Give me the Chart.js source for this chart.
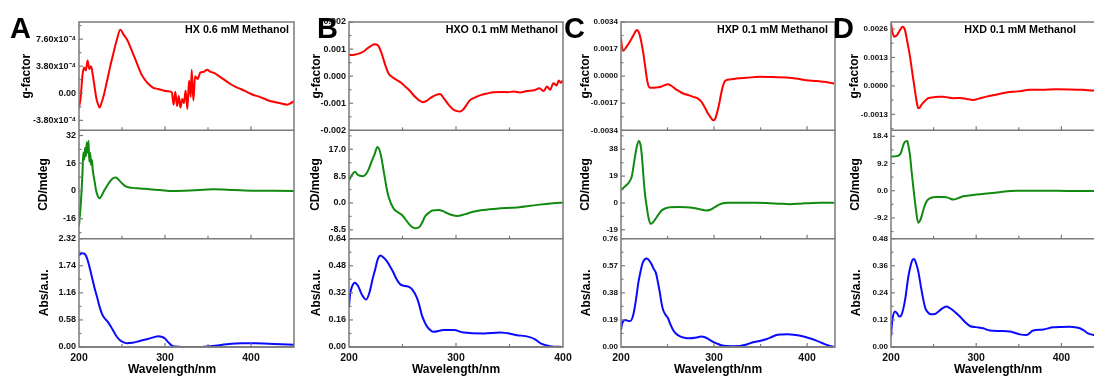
<!DOCTYPE html>
<html>
<head>
<meta charset="utf-8">
<script src="https://cdn.jsdelivr.net/npm/chart.js@4.4.0/dist/chart.umd.min.js"></script>
<style>
html, body { margin: 0; padding: 0; background: #fff; overflow: hidden; width: 1094px; height: 381px; }
canvas { position: absolute; top: 0; }
</style>
</head>
<body>
<canvas id="cA"></canvas>
<canvas id="cB"></canvas>
<canvas id="cC"></canvas>
<canvas id="cD"></canvas>
<script>
// --- Data: wavelength (nm) / value pairs ---

// Panel A (HX)
const wlA_g = [200,202,204,206,208,210,212,214,216,218,220,222,224,226,229,232,236,240,244,248,252,256,260,264,268,272,276,280,286,292,298,304,308,310,312,314,316,318,320,322,324,326,328,330,331,333,335,338,341,345,349,353,358,364,370,376,382,388,395,402,410,418,426,434,442,446,450];
const gA = [-2.0e-4,-0.5e-4,2.5e-4,3.6e-4,3.2e-4,4.6e-4,3.4e-4,3.8e-4,2.6e-4,1.0e-4,-0.6e-4,-1.5e-4,-2.0e-4,-1.4e-4,-0.2e-4,1.4e-4,3.6e-4,5.6e-4,7.5e-4,8.9e-4,8.2e-4,7.5e-4,6.4e-4,5.2e-4,4.0e-4,2.8e-4,2.0e-4,1.4e-4,0.8e-4,0.6e-4,0.4e-4,0.3e-4,0.1e-4,-1.6e-4,0.2e-4,-1.8e-4,-0.4e-4,-2.0e-4,-0.8e-4,-1.4e-4,0.4e-4,-2.2e-4,1.8e-4,-0.5e-4,3.3e-4,-1.0e-4,2.4e-4,2.0e-4,2.9e-4,3.0e-4,3.3e-4,3.0e-4,2.8e-4,2.3e-4,1.8e-4,1.3e-4,0.9e-4,0.6e-4,0.2e-4,-0.2e-4,-0.5e-4,-0.9e-4,-1.2e-4,-1.4e-4,-1.6e-4,-1.4e-4,-1.1e-4];
const wlA_cd = [200,201,202,203,204,205,206,207,208,209,210,211,212,213,214,215,216,218,220,222,224,226,229,232,236,240,243,247,251,255,262,271,282,294,309,330,356,380,402,425,450];
const cdA = [-20,-14,-8,0,10,22,18,25,20,28,22,29,17,22,15,18,12,6,0,-3,-4.2,-3,0,2.5,5.5,7.5,7.8,6.0,4.0,2.5,1.8,1.5,1.0,0.6,0.0,0.3,1.0,0.6,0.2,0.1,0.0];
const wlA_abs = [200,202,204,206,208,211,215,218,221,224,227,230,233,237,241,244,248,252,256,262,271,280,287,292,296,300,304,308,312,320,340,355,372,390,405,420,435,450];
const absA = [1.96,2.00,2.01,2.00,1.96,1.80,1.50,1.27,1.07,0.86,0.70,0.61,0.55,0.44,0.31,0.22,0.14,0.10,0.08,0.09,0.13,0.17,0.21,0.23,0.22,0.18,0.10,0.03,0.01,0.0,0.0,0.02,0.06,0.08,0.08,0.07,0.06,0.05];

// Panel B (HXO)
const wlB_g = [200,205,210,214,217,221,224,227,228,230,232,234,237,241,245,249,253,257,261,265,269,273,277,281,285,289,293,297,301,304,307,310,313,318,323,329,335,342,348,354,360,366,373,378,382,385,388,391,394,396,398,400];
const gB = [7.8e-4,7.9e-4,8.4e-4,9.2e-4,10.2e-4,11.3e-4,11.8e-4,11.4e-4,10.8e-4,9.0e-4,6.5e-4,4.0e-4,1.0e-4,-0.5e-4,-1.5e-4,-2.5e-4,-4.0e-4,-5.5e-4,-7.3e-4,-8.8e-4,-9.6e-4,-9.0e-4,-7.8e-4,-7.0e-4,-6.6e-4,-8.4e-4,-10.5e-4,-12.2e-4,-12.9e-4,-13.0e-4,-12.2e-4,-10.5e-4,-8.9e-4,-7.8e-4,-7.0e-4,-6.4e-4,-5.9e-4,-5.8e-4,-5.9e-4,-5.7e-4,-6.0e-4,-5.5e-4,-5.2e-4,-4.5e-4,-5.5e-4,-3.8e-4,-5.0e-4,-2.6e-4,-3.4e-4,-1.6e-4,-2.4e-4,-1.5e-4];
const wlB_cd = [200,203,205.5,208.5,213,216,218,221,224,226.5,229.5,232.8,235,237,241.5,245,249.5,255.5,259,262,264,266.5,269,271,275,278,284,288,292,297,301,306,310,316,323,338,357,376,391,400];
const cdB = [7.2,9.0,9.9,8.8,8.5,9.2,10.4,13.0,15.5,17.7,15.6,9.3,5.0,2.0,-1.7,-2.8,-3.8,-6.4,-7.6,-8.0,-7.9,-7.3,-5.8,-4.3,-3.0,-2.4,-2.2,-2.6,-3.3,-3.9,-4.1,-3.8,-3.4,-2.8,-2.3,-1.8,-1.4,-0.6,-0.1,0.1];
const wlB_abs = [200,201,203,205.5,208.5,212,216,219.5,222,224.5,227,229.5,232,235,238,241.5,244.5,248,252.5,256,259,263.5,266,268,270.5,273,279,288.5,298,307,326,341.5,357,368,374,379,388,400];
const absB = [0.24,0.31,0.36,0.38,0.36,0.31,0.28,0.33,0.40,0.46,0.52,0.54,0.53,0.51,0.48,0.44,0.40,0.37,0.36,0.355,0.34,0.29,0.24,0.19,0.15,0.12,0.09,0.10,0.10,0.085,0.08,0.085,0.07,0.06,0.045,0.022,0.005,0.0];

// Panel C (HXP)
const wlC_g = [200,201,202.5,206,211.5,215,217,219.5,222,224,226,227.5,229,230.5,234,238,243,247,250.5,254,258,262,267,272,277.5,282,286.5,290,293.5,296.5,299,301,303,305.5,308,310.5,313,318,324,335,349,363,377.6,390,399,410,420.5,429];
const gC = [24e-4,18e-4,16e-4,18.5e-4,23.7e-4,27.5e-4,29e-4,27e-4,21e-4,14.3e-4,6e-4,-0.4e-4,-5e-4,-7.1e-4,-7.3e-4,-7.1e-4,-6.6e-4,-5.6e-4,-5.0e-4,-6.0e-4,-7.8e-4,-9.3e-4,-10.9e-4,-11.8e-4,-13.0e-4,-13.8e-4,-16.2e-4,-19.5e-4,-23.5e-4,-26.0e-4,-27.7e-4,-27.0e-4,-23.5e-4,-17.5e-4,-9.9e-4,-4.5e-4,-2.5e-4,-2.0e-4,-1.5e-4,-1.0e-4,-0.4e-4,-0.6e-4,-0.8e-4,-1.6e-4,-2.5e-4,-3.0e-4,-3.6e-4,-4.6e-4];
const wlC_cd = [200,203,206,209,211.5,213,215,217,219.3,221,222.5,224,225.7,227.5,229.3,231.8,234,236.4,240,243.6,248,252.5,262,270.4,278,284.7,291.9,296,300.8,305,309.7,316,324,340,356,370,381,393,406,418,429];
const cdC = [9.1,11,12.7,15,18.5,24,32.6,40,43.9,41,33,20,6.8,-2,-9.6,-14.8,-14.0,-12.0,-8.5,-5.4,-3.8,-3.0,-2.8,-3.0,-3.6,-4.5,-5.4,-4.8,-3.0,-1.4,-0.2,0.1,0.2,0.1,0.0,-0.5,-0.9,-0.5,0.0,0.1,0.2];
const wlC_abs = [200,201,204.3,207,209.6,212,214,216.5,218.6,221,223.3,227.5,230,232.9,235,237.5,239.5,241.8,243.5,245.3,248,250.7,253,256,259,263,268,274,280,286.5,290,293.6,298,302.6,308,313.3,320,327.5,335,341.8,349,356,362,367,373,379,388,395,402.6,410,416.8,423,429];
const absC = [0.12,0.16,0.19,0.185,0.18,0.20,0.25,0.35,0.45,0.53,0.59,0.62,0.61,0.58,0.55,0.52,0.46,0.38,0.31,0.26,0.225,0.20,0.16,0.12,0.095,0.077,0.065,0.061,0.065,0.073,0.068,0.057,0.04,0.026,0.012,0.007,0.006,0.007,0.018,0.033,0.042,0.054,0.07,0.084,0.088,0.09,0.084,0.075,0.061,0.045,0.026,0.01,0.0];

// Panel D (HXD)
const wlD_g = [200,201.5,203.5,206.6,209,211,213.7,216.4,219,222.3,225,228,230,232,234,236,240,243.7,250,256,261.3,267,273,281,288.7,296.5,303,312,323,335.6,349,363,378,394,410,425,438,450];
const gD = [28.6e-4,25e-4,22.5e-4,23e-4,24.5e-4,25.8e-4,27e-4,25.5e-4,20.5e-4,13.4e-4,6e-4,-1.8e-4,-7e-4,-10.2e-4,-9.8e-4,-8.5e-4,-6.8e-4,-5.6e-4,-5.2e-4,-5.0e-4,-4.9e-4,-5.3e-4,-5.6e-4,-5.5e-4,-6.0e-4,-6.4e-4,-5.8e-4,-4.9e-4,-4.0e-4,-3.0e-4,-2.5e-4,-1.8e-4,-1.7e-4,-1.5e-4,-1.6e-4,-1.8e-4,-2.1e-4,-2.2e-4];
const wlD_cd = [200,206.6,211.3,213.5,215.2,217,219.1,220.5,222.3,224,226.1,229.3,232,234,236,239,241.8,246,253.5,263,268,273,278,284.8,300.5,324,347,382,410,438,450];
const cdD = [11.5,11.7,12.6,14.5,16.0,16.7,16.8,15,12,7,1.4,-6.4,-10.8,-10.2,-8.6,-5.5,-3.6,-2.5,-2.1,-2.1,-2.5,-3.0,-2.6,-1.9,-1.3,-0.6,0.0,0.0,-0.1,-0.1,0.0];
const wlD_abs = [200,201,202,204.7,207,209.8,212,214.5,217,220.3,223,225,227,229.5,232,235,237.9,240.5,243.7,247,251.6,255,259.4,265.3,269,273,278,282.9,287,292.6,300,308.2,316,328,339.5,346,351.2,359,366.8,378.6,390.3,400,409.8,416,421.6,427,431.3,438,445,450];
const absD = [0.046,0.10,0.13,0.157,0.15,0.135,0.14,0.17,0.22,0.31,0.36,0.385,0.39,0.37,0.335,0.27,0.21,0.17,0.152,0.145,0.146,0.155,0.169,0.179,0.172,0.162,0.145,0.127,0.11,0.093,0.088,0.083,0.073,0.071,0.069,0.062,0.056,0.053,0.073,0.078,0.087,0.089,0.09,0.088,0.083,0.072,0.06,0.053,0.05,0.048];

// --- Axis ranges and tick labels ---
const xMajor = [200, 300, 400];
const xMinor = [250, 350, 450];

const gTicksA = [-3.8e-4, 0, 3.8e-4, 7.6e-4];
const gLabelsA = ['-3.80x10\u207B\u2074', '0.00', '3.80x10\u207B\u2074', '7.60x10\u207B\u2074'];
const cdTicksA = [-16, 0, 16, 32];
const cdLabelsA = ['-16', '0', '16', '32'];
const absTicksA = [0, 0.58, 1.16, 1.74, 2.32];
const absLabelsA = ['0.00', '0.58', '1.16', '1.74', '2.32'];

const gTicksB = [-0.002, -0.001, 0, 0.001, 0.002];
const gLabelsB = ['-0.002', '-0.001', '0.000', '0.001', '0.002'];
const cdTicksB = [-8.5, 0, 8.5, 17];
const cdLabelsB = ['-8.5', '0.0', '8.5', '17.0'];
const absTicksB = [0, 0.16, 0.32, 0.48, 0.64];
const absLabelsB = ['0.00', '0.16', '0.32', '0.48', '0.64'];

const gTicksC = [-0.0034, -0.0017, 0, 0.0017, 0.0034];
const gLabelsC = ['-0.0034', '-0.0017', '0.0000', '0.0017', '0.0034'];
const cdTicksC = [-19, 0, 19, 38];
const cdLabelsC = ['-19', '0', '19', '38'];
const absTicksC = [0, 0.19, 0.38, 0.57, 0.76];
const absLabelsC = ['0.00', '0.19', '0.38', '0.57', '0.76'];

const gTicksD = [-0.0013, 0, 0.0013, 0.0026];
const gLabelsD = ['-0.0013', '0.0000', '0.0013', '0.0026'];
const cdTicksD = [-9.2, 0, 9.2, 18.4];
const cdLabelsD = ['-9.2', '0.0', '9.2', '18.4'];
const absTicksD = [0, 0.12, 0.24, 0.36, 0.48];
const absLabelsD = ['0.00', '0.12', '0.24', '0.36', '0.48'];

// --- Layout constants ---
const FONT = '"Liberation Sans", Arial, sans-serif';
const Y_AXIS_W = 62;
const X_AXIS_H = 32;
const PLOT_TOP = 22;
const PLOT_BOTTOM = 347;
const FRAME = '#7a7a7a';
const RED = '#ff0000', GREEN = '#108a10', BLUE = '#0a0aff';

Chart.defaults.font.family = FONT;
Chart.defaults.font.weight = 'bold';

const pts = (xs, ys) => xs.map((x, i) => ({ x: x, y: ys[i] }));

// draws frame, separators, inward ticks, panel letter and titles
const decoPlugin = {
    id: 'deco',
    afterDraw(chart, args, o) {
        const ctx = chart.ctx;
        const a = chart.chartArea;
        const xs = chart.scales.x;
        const ys = ['yg', 'ycd', 'yabs'].map(id => chart.scales[id]);
        const seg = (x1, y1, x2, y2) => { ctx.beginPath(); ctx.moveTo(x1, y1); ctx.lineTo(x2, y2); ctx.stroke(); };

        ctx.save();
        ctx.strokeStyle = FRAME;
        ctx.lineWidth = 1.5;
        ctx.strokeRect(a.left, a.top, a.right - a.left, a.bottom - a.top);
        ys.forEach(s => seg(a.left, s.bottom, a.right, s.bottom));

        // y ticks (major + minor), pointing inward
        ctx.lineWidth = 1.2;
        ys.forEach(s => {
            const vals = s.ticks.map(t => t.value);
            vals.forEach(v => { const p = s.getPixelForValue(v); seg(a.left, p, a.left + 4, p); });
            const step = vals[1] - vals[0];
            let v = vals[0] - step / 2;
            while (v - step >= s.min) v -= step;
            for (; v <= s.max; v += step) {
                if (v < s.min) continue;
                const p = s.getPixelForValue(v);
                seg(a.left, p, a.left + 2.5, p);
            }
        });

        // x ticks at the bottom of each sub-plot, pointing up
        ys.forEach(s => {
            xMajor.concat(xMinor).forEach(v => {
                if (v <= xs.min || v >= xs.max) return;
                const p = xs.getPixelForValue(v);
                seg(p, s.bottom, p, s.bottom - (xMajor.includes(v) ? 4 : 3));
            });
        });

        ctx.fillStyle = '#000';
        ctx.textAlign = 'left';
        ctx.textBaseline = 'alphabetic';
        ctx.font = 'bold 29px ' + FONT;
        ctx.fillText(o.letter, o.letterX, 38);
        ctx.textAlign = 'right';
        ctx.font = 'bold 10.7px ' + FONT;
        ctx.fillText(o.title, a.right - o.titleInset, 33);
        ctx.textAlign = 'center';
        ctx.textBaseline = 'middle';
        ctx.font = 'bold 12px ' + FONT;
        ctx.fillText('Wavelength/nm', o.xTitleX, 370);
        ctx.restore();
    }
};

function yAxis(ax, i, pad, tickSize) {
    return {
        type: 'linear',
        position: 'left',
        stack: 'panel',
        stackWeight: 1,
        weight: 3 - i,
        min: ax.min,
        max: ax.max,
        grid: { display: false, drawTicks: false },
        border: { display: false },
        afterBuildTicks: s => { s.ticks = ax.ticks.map(v => ({ value: v })); },
        afterFit: s => { s.width = Y_AXIS_W; },
        ticks: {
            autoSkip: false,
            padding: 3,
            color: '#111',
            font: { size: tickSize, weight: 'bold' },
            callback: (v, j) => ax.labels[j]
        },
        title: {
            display: true,
            text: ax.title,
            color: '#000',
            font: { size: 12, weight: 'bold' },
            padding: { top: pad, bottom: 0 }
        }
    };
}

function makePanel(p) {
    const cv = document.getElementById(p.canvas);
    cv.width = p.width;
    cv.height = 381;
    cv.style.left = p.left + 'px';
    const padLeft = p.plotLeft - p.left - Y_AXIS_W;
    const padRight = p.left + p.width - p.plotRight;

    return new Chart(cv.getContext('2d'), {
        type: 'line',
        data: {
            datasets: [
                { data: pts(p.g[0], p.g[1]), yAxisID: 'yg', borderColor: RED },
                { data: pts(p.cd[0], p.cd[1]), yAxisID: 'ycd', borderColor: GREEN },
                { data: pts(p.abs[0], p.abs[1]), yAxisID: 'yabs', borderColor: BLUE }
            ].map(d => Object.assign(d, {
                xAxisID: 'x',
                borderWidth: 2,
                pointRadius: 0,
                fill: false,
                cubicInterpolationMode: 'monotone'
            }))
        },
        options: {
            responsive: false,
            animation: false,
            events: [],
            layout: { padding: { top: PLOT_TOP, left: padLeft, right: padRight, bottom: 381 - PLOT_BOTTOM - X_AXIS_H } },
            plugins: {
                legend: { display: false },
                tooltip: { enabled: false },
                deco: {
                    letter: p.letter, letterX: p.letterX - p.left,
                    title: p.title, titleInset: p.titleInset,
                    xTitleX: p.xTitleX - p.left
                }
            },
            scales: {
                x: {
                    type: 'linear',
                    min: 200,
                    max: p.xMax,
                    grid: { display: false, drawTicks: false },
                    border: { display: false },
                    afterBuildTicks: s => { s.ticks = xMajor.filter(v => v <= p.xMax).map(v => ({ value: v })); },
                    afterFit: s => { s.height = X_AXIS_H; },
                    ticks: { autoSkip: false, maxRotation: 0, padding: 5, color: '#111', font: { size: 10.5, weight: 'bold' }, callback: v => String(v) },
                    title: { display: false }
                },
                yg: yAxis(p.gAxis, 0, p.titlePads[0], p.tickSize),
                ycd: yAxis(p.cdAxis, 1, p.titlePads[1], p.tickSize),
                yabs: yAxis(p.absAxis, 2, p.titlePads[2], p.tickSize)
            }
        },
        plugins: [decoPlugin]
    });
}

const panels = [
    {
        canvas: 'cA', left: 0, width: 306, plotLeft: 79, plotRight: 294, xMax: 450,
        letter: 'A', letterX: 10, title: 'HX 0.6 mM Methanol', titleInset: 5, xTitleX: 172, tickSize: 9,
        g: [wlA_g, gA], cd: [wlA_cd, cdA], abs: [wlA_abs, absA],
        gAxis: { min: -5.2e-4, max: 10.0e-4, ticks: gTicksA, labels: gLabelsA, title: 'g-factor' },
        cdAxis: { min: -27.5, max: 35, ticks: cdTicksA, labels: cdLabelsA, title: 'CD/mdeg' },
        absAxis: { min: 0, max: 2.32, ticks: absTicksA, labels: absLabelsA, title: 'Abs/a.u.' },
        titlePads: [2.8, 19.8, 20.8]
    },
    {
        canvas: 'cB', left: 277, width: 300, plotLeft: 349, plotRight: 563, xMax: 400,
        letter: 'B', letterX: 317, title: 'HXO 0.1 mM Methanol', titleInset: 5, xTitleX: 456, tickSize: 9,
        g: [wlB_g, gB], cd: [wlB_cd, cdB], abs: [wlB_abs, absB],
        gAxis: { min: -0.002, max: 0.002, ticks: gTicksB, labels: gLabelsB, title: 'g-factor' },
        cdAxis: { min: -11.3, max: 23, ticks: cdTicksB, labels: cdLabelsB, title: 'CD/mdeg' },
        absAxis: { min: 0, max: 0.64, ticks: absTicksB, labels: absLabelsB, title: 'Abs/a.u.' },
        titlePads: [22.8, 21.8, 22.8]
    },
    {
        canvas: 'cC', left: 549, width: 300, plotLeft: 621, plotRight: 835, xMax: 430,
        letter: 'C', letterX: 564, title: 'HXP 0.1 mM Methanol', titleInset: 7, xTitleX: 718, tickSize: 8,
        g: [wlC_g, gC], cd: [wlC_cd, cdC], abs: [wlC_abs, absC],
        gAxis: { min: -0.0034, max: 0.0034, ticks: gTicksC, labels: gLabelsC, title: 'g-factor' },
        cdAxis: { min: -25.3, max: 51.4, ticks: cdTicksC, labels: cdLabelsC, title: 'CD/mdeg' },
        absAxis: { min: 0, max: 0.76, ticks: absTicksC, labels: absLabelsC, title: 'Abs/a.u.' },
        titlePads: [19.8, 19.8, 20.8]
    },
    {
        canvas: 'cD', left: 819, width: 295, plotLeft: 891, plotRight: 1104, xMax: 450,
        letter: 'D', letterX: 833, title: 'HXD 0.1 mM Methanol', titleInset: 28, xTitleX: 998, tickSize: 8,
        g: [wlD_g, gD], cd: [wlD_cd, cdD], abs: [wlD_abs, absD],
        gAxis: { min: -0.00203, max: 0.00292, ticks: gTicksD, labels: gLabelsD, title: 'g-factor' },
        cdAxis: { min: -16.2, max: 20.4, ticks: cdTicksD, labels: cdLabelsD, title: 'CD/mdeg' },
        absAxis: { min: 0, max: 0.48, ticks: absTicksD, labels: absLabelsD, title: 'Abs/a.u.' },
        titlePads: [18.8, 19.8, 20.8]
    }
];

document.addEventListener('DOMContentLoaded', () => {
    panels.forEach(makePanel);
});
</script>
</body>
</html>
